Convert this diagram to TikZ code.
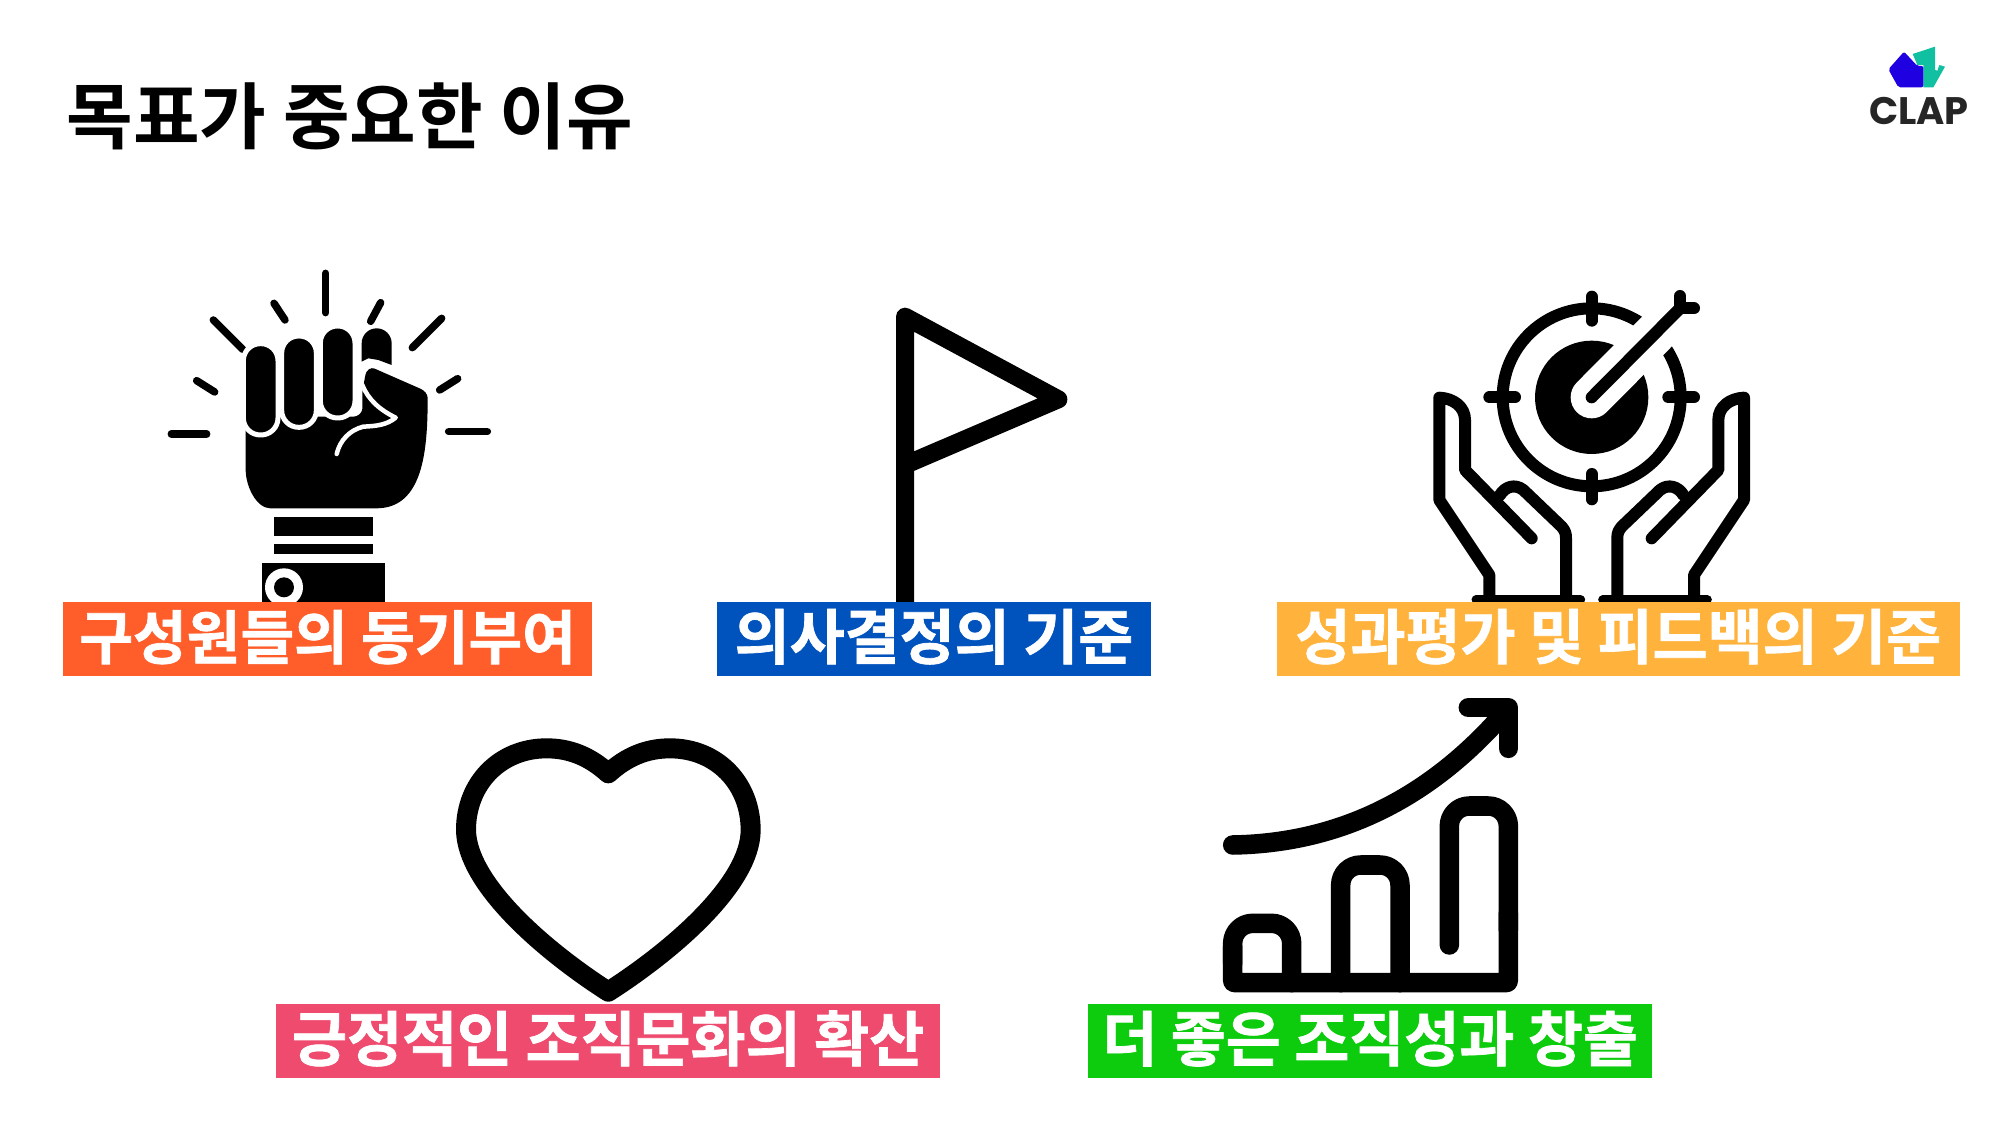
\documentclass[tikz,border=0pt]{standalone}
\usepackage{fontspec}
\usepackage{xcolor}
\usetikzlibrary{positioning}
\newfontfamily\krtitle{Noto Sans CJK KR Bold}
\newfontfamily\krlabel[FakeBold=1.2]{Noto Sans CJK KR Bold}
\newfontfamily\logofont{Poppins}
\definecolor{motivefill}{HTML}{FF5E2B}
\definecolor{decidefill}{HTML}{0052BD}
\definecolor{reviewfill}{HTML}{FFB33C}
\definecolor{culturefill}{HTML}{EE4B6E}
\definecolor{resultfill}{HTML}{0DCB0D}
\definecolor{logoblue}{HTML}{1F00E0}
\definecolor{logoteal}{HTML}{10C0A0}

\begin{document}
\begin{tikzpicture}[
    x=0.01cm, y=-0.01cm,
    labelbox/.style={inner sep=0pt, outer sep=0pt, minimum height=0.74cm, text height=0.5cm, text depth=0.1cm, text=white, align=center, font=\krlabel\fontsize{17pt}{20pt}\selectfont},
    zoomed/.style={scale=1/3},
    rayline/.style={line width=0.075cm, line cap=round},
    iconline/.style={line width=0.12cm, line cap=round, line join=round},
    heavyline/.style={line width=0.195cm, line cap=round, line join=round},
    ]
    \useasboundingbox (0,0) rectangle (2000,1125);
    \fill[white] (0,0) rectangle (2000,1125);

    % Title and logo
    \node[anchor=west, inner sep=0pt, font=\krtitle\fontsize{20.6pt}{24pt}\selectfont] (title) at (66,116) {목표가 중요한 이유};
    \begin{scope}[shift={(1840,30)}, zoomed]
        \fill[logoteal] (218,72) -- (285,50) -- (285,120) -- (292,122) -- (298,105) -- (315,110) -- (280,172) -- (250,172) -- (250,105) -- (232,105) -- cycle;
        \fill[logoblue, rounded corners=0.02cm] (145,118) -- (192,65) -- (232,108) -- (250,108) -- (250,172) -- (175,172) -- cycle;
    \end{scope}
    \node[inner sep=0pt, text=black!85, font=\logofont\bfseries\fontsize{10.9pt}{12pt}\selectfont] (logo) at (1919,111) {CLAP};

    % Fist
    \begin{scope}[shift={(130,250)}, zoomed]
        \foreach \xa/\ya/\xb/\yb in {587/70/587/188, 432/160/465/210, 752/158/722/214, 250/210/338/298, 935/205/847/293, 200/392/254/426, 983/386/929/420, 124/552/230/552, 956/545/1072/545}
            \draw[rayline] (\xa,\ya) -- (\xb,\yb);
        \fill (695,335) -- (695,280) arc[start angle=180, end angle=360, radius=45] -- (785,345) -- (745,330) -- (715,325) -- cycle;
        \fill[rounded corners=0.03cm] (347,500) -- (680,500) -- (697,485) -- (697,425) -- (708,365) -- (725,352) -- (880,420) -- (893,435)
            .. controls (893,600) and (880,775) .. (730,775) -- (430,775) .. controls (380,775) and (347,710) .. (347,650) -- cycle;
        \foreach \xa/\ya/\yb in {347/288/548, 462/265/525, 578/235/497}
            \draw[white, line width=0.05cm, fill=black, rounded corners=0.17cm] (\xa-7,\ya-7) rectangle (\xa+97,\yb+7);
        \draw[white, line width=0.045cm, line cap=round, line join=round] (697,405) .. controls (715,450) and (750,480) .. (797,503) .. controls (770,525) and (740,528) .. (700,530) .. controls (660,540) and (630,570) .. (620,612);
        \fill (432,800) rectangle (728,857);
        \fill (432,883) rectangle (728,913);
        \fill (395,938) rectangle (765,1060);
        \fill[white] (462,1012) circle[radius=57];
        \fill (462,1012) circle[radius=30];
    \end{scope}

    % Flag
    \begin{scope}[shift={(870,290)}, zoomed]
        \draw[line width=0.18cm, line join=round] (105,940) -- (105,80) -- (565,328) -- (105,525);
    \end{scope}

    % Target held by two hands
    \begin{scope}[shift={(1400,270)}, zoomed]
        \draw[iconline, line cap=butt] (575,382) circle[radius=267];
        \foreach \xa/\ya/\xb/\yb in {575/80/575/152, 575/612/575/688, 268/382/345/382, 805/382/882/382}
            \draw[iconline] (\xa,\ya) -- (\xb,\yb);
        \fill (575,382) circle[radius=170];
        \draw[white, line width=0.42cm, line cap=round] (575,382) -- (840,115);
        \draw[iconline] (575,382) -- (840,115);
        \draw[iconline] (840,78) -- (840,115) -- (882,115);
        \foreach \sx/\mx in {1/0, -1/1150} {
            \begin{scope}[shift={(\mx,0)}, xscale=\sx]
                \draw[iconline] (268,985) -- (268,915) -- (118,690) -- (118,383) .. controls (160,385) and (195,410) .. (195,450) -- (195,600) -- (395,805);
                \draw[iconline] (300,675) .. controls (315,650) and (345,640) .. (370,660) -- (485,770) .. controls (495,782) and (498,790) .. (498,805) -- (498,985);
                \draw[line width=0.09cm, line cap=round] (228,990) -- (542,990);
            \end{scope}
        }
    \end{scope}

    % Heart
    \begin{scope}[shift={(430,720)}, zoomed]
        \draw[line width=0.2cm, line join=round] (535,160) .. controls (480,110) and (420,85) .. (350,85) .. controls (210,85) and (108,190) .. (108,330) .. controls (110,490) and (340,690) .. (535,815)
            .. controls (730,690) and (962,490) .. (962,330) .. controls (962,190) and (860,85) .. (720,85) .. controls (650,85) and (590,110) .. (535,160) -- cycle;
    \end{scope}

    % Rising bars
    \begin{scope}[shift={(1200,680)}, zoomed]
        \draw[heavyline, rounded corners=0.02cm] (925,700) -- (925,908) -- (98,908) -- (98,800);
        \draw[heavyline, rounded corners=0.2cm] (748,795) -- (748,378) -- (925,378) -- (925,750);
        \draw[heavyline, rounded corners=0.2cm] (98,850) -- (98,730) -- (275,730) -- (275,908);
        \draw[heavyline, rounded corners=0.2cm] (422,908) -- (422,555) -- (600,555) -- (600,908);
        \draw[heavyline] (98,495) .. controls (400,490) and (680,370) .. (920,90);
        \draw[heavyline] (805,83) -- (925,83) -- (925,205);
    \end{scope}

    % Labels, top row
    \node[labelbox, fill=motivefill, minimum width=5.29cm, anchor=north west, font=\krlabel\fontsize{16.6pt}{20pt}\selectfont] (motive) at (63,602) {구성원들의 동기부여};
    \node[labelbox, fill=decidefill, minimum width=4.33cm, right=1.25cm of motive] (decide) {의사결정의 기준};
    \node[labelbox, fill=reviewfill, minimum width=6.82cm, right=1.265cm of decide] (review) {성과평가 및 피드백의 기준};

    % Labels, bottom row
    \node[labelbox, fill=culturefill, minimum width=6.64cm, anchor=north west] (culture) at (276,1004) {긍정적인 조직문화의 확산};
    \node[labelbox, fill=resultfill, minimum width=5.63cm, right=1.48cm of culture] (result) {더 좋은 조직성과 창출};
\end{tikzpicture}
\end{document}
